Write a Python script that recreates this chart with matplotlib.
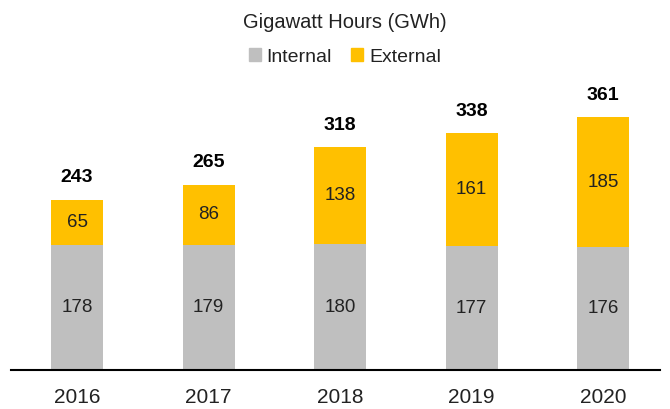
import matplotlib.pyplot as plt
from matplotlib.patches import Patch

plt.rcParams['font.family'] = ['Liberation Sans', 'DejaVu Sans']

years = ['2016', '2017', '2018', '2019', '2020']
internal = [178, 179, 180, 177, 176]
external = [65, 86, 138, 161, 185]
totals = [243, 265, 318, 338, 361]

grey = '#BFBFBF'
yellow = '#FFC000'

fig = plt.figure(figsize=(6.7, 4.09), dpi=100)
ax = fig.add_axes([11 / 670, 39 / 409, 649 / 670, 370 / 409])

x = range(len(years))
ax.bar(x, internal, width=0.395, color=grey)
ax.bar(x, external, bottom=internal, width=0.395, color=yellow)

for i in x:
    ax.text(i, internal[i] / 2, str(internal[i]), ha='center', va='center',
            fontsize=13.5, color='#222222')
    ax.text(i, internal[i] + external[i] / 2, str(external[i]), ha='center',
            va='center', fontsize=13.5, color='#222222')
    ax.annotate(str(totals[i]), (i, internal[i] + external[i]),
                xytext=(0, 16), textcoords='offset points', ha='center',
                va='center', fontsize=14, fontweight='bold', color='black')

ax.set_xlim(-0.502, 4.433)
ax.set_ylim(0, 528.6)
for s in ['top', 'left', 'right']:
    ax.spines[s].set_visible(False)
ax.spines['bottom'].set_linewidth(1.5)
ax.spines['bottom'].set_color('black')
ax.set_yticks([])
ax.set_xticks(list(x))
ax.set_xticklabels(years, fontsize=15, color='#222222')
ax.tick_params(axis='x', length=0, pad=13)

fig.text(345 / 670, 1 - 22 / 409, 'Gigawatt Hours (GWh)', ha='center',
         va='center', fontsize=14.5, color='#222222')
handles = [Patch(color=grey, label='Internal'), Patch(color=yellow, label='External')]
fig.legend(handles=handles, loc='center', bbox_to_anchor=(345 / 670, 1 - 57 / 409),
           ncol=2, frameon=False, fontsize=14, handlelength=0.6, handleheight=0.6,
           handletextpad=0.3, columnspacing=1.0, labelcolor='#222222')

fig.savefig('out.png', dpi=100)
